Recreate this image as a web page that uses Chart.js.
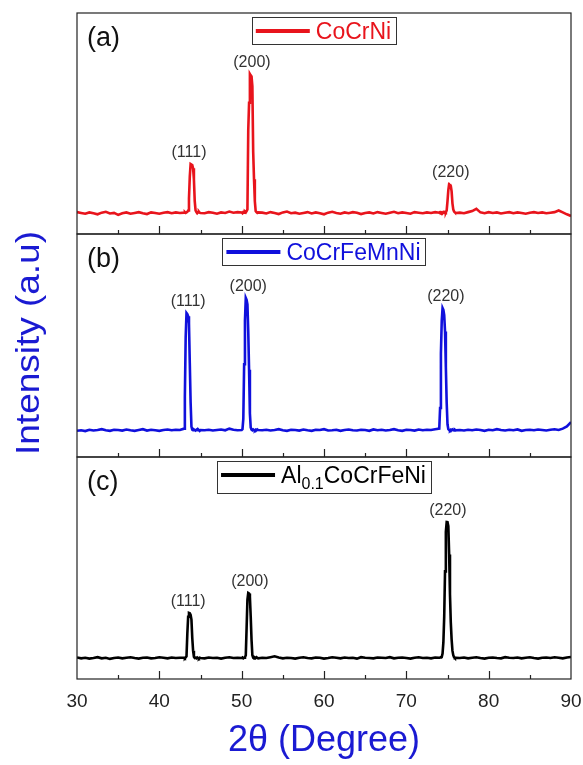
<html>

<head>
    <title>XRD patterns</title>
    <script src="https://cdn.jsdelivr.net/npm/chart.js"></script>
    <style>
        body {
            margin: 0;
            background: #fff;
        }
    </style>
</head>

<body>
    <canvas id="xrdChart" width="583" height="765"></canvas>
</body>
<script>
    // 2theta grid (coarse on the background, fine around the peaks)
    const twoTheta = [
        30, 30.5, 31, 31.5, 32, 32.5, 33, 33.5, 34, 34.5, 35, 35.5, 36, 36.5, 37, 37.5, 38, 38.5, 39, 39.5, 40, 40.5, 41, 41.5, 42, 42.5,
        43, 43.1, 43.2, 43.3, 43.4, 43.5, 43.6, 43.7, 43.8, 43.9, 44, 44.1, 44.2, 44.3, 44.4, 44.5, 44.6, 44.7, 44.8, 44.9, 45,
        45.5, 46, 46.5, 47, 47.5, 48, 48.5, 49, 49.5,
        50, 50.1, 50.2, 50.3, 50.4, 50.5, 50.6, 50.7, 50.8, 50.9, 51, 51.1, 51.2, 51.3, 51.4, 51.5, 51.6, 51.7, 51.8, 51.9, 52,
        52.5, 53, 53.5, 54, 54.5, 55, 55.5, 56, 56.5, 57, 57.5, 58, 58.5, 59, 59.5, 60, 60.5, 61, 61.5, 62,
        62.5, 63, 63.5, 64, 64.5, 65, 65.5, 66, 66.5, 67, 67.5, 68, 68.5, 69, 69.5, 70, 70.5, 71, 71.5, 72, 72.5, 73, 73.5,
        74, 74.1, 74.2, 74.3, 74.4, 74.5, 74.6, 74.7, 74.8, 74.9, 75, 75.1, 75.2, 75.3, 75.4, 75.5, 75.6, 75.7, 75.8, 75.9, 76,
        76.5, 77, 77.5, 78, 78.5, 79, 79.5, 80, 80.5, 81, 81.5, 82, 82.5, 83, 83.5, 84, 84.5, 85, 85.5, 86, 86.5, 87, 87.5, 88, 88.5, 89, 89.5, 90
    ]

    const intensityCoCrNi = [
        400, 385, 370, 395, 380, 360, 390, 405, 375, 385, 350, 380, 395, 370, 385, 400, 380, 365, 395, 385, 370, 390, 400, 380, 395, 385,
        390, 400, 385, 395, 405, 430, 650, 1050, 1280, 1270, 1260, 1200, 1000, 600, 430, 400, 380, 395, 410, 390, 385,
        380, 400, 390, 370, 395, 385, 410, 390, 400,
        395, 380, 400, 390, 410, 395, 420, 450, 1900, 2400, 2925, 2900, 2880, 2700, 1500, 1000, 600, 420, 400, 385, 395,
        390, 375, 400, 385, 365, 395, 410, 380, 390, 370, 385, 400, 375, 395, 380, 360, 390, 405, 385, 370,
        395, 380, 400, 390, 365, 385, 395, 375, 400, 385, 370, 390, 405, 380, 395, 385, 370, 400, 390, 380, 395, 385, 400,
        390, 400, 385, 395, 380, 400, 390, 405, 395, 430, 600, 800, 914, 910, 880, 780, 560, 450, 410, 395, 385,
        390, 380, 400, 420, 460, 395, 380, 400, 385, 395, 375, 390, 400, 380, 395, 385, 370, 390, 400, 385, 395, 380, 390, 400, 430, 395, 360, 330
    ]

    const intensityCoCrFeMnNi = [
        480, 490, 475, 500, 485, 495, 510, 490, 480, 500, 495, 485, 505, 490, 480, 495, 510, 485, 500, 490, 480, 495, 505, 490, 500, 495,
        520, 1100, 2200, 2640, 2620, 2580, 2450, 1720, 1000, 560, 500, 490, 505, 495, 485, 500, 510, 490, 495, 480, 495,
        490, 500, 485, 495, 505, 490, 520, 500, 490,
        495, 510, 700, 1700, 2500, 2916, 2880, 2800, 2300, 1600, 800, 540, 500, 490, 505, 495, 485, 500, 490, 505, 495,
        490, 500, 485, 495, 510, 490, 480, 500, 495, 485, 505, 490, 480, 500, 495, 510, 485, 490, 500, 480,
        495, 505, 490, 485, 500, 495, 480, 505, 490, 500, 485, 495, 510, 490, 480, 500, 495, 485, 505, 490, 500, 495, 510,
        520, 900, 1900, 2500, 2733, 2700, 2600, 2300, 1650, 1000, 600, 510, 495, 485, 500, 490, 505, 495, 485, 500, 490,
        495, 485, 500, 490, 505, 495, 480, 500, 490, 510, 495, 485, 500, 490, 505, 480, 495, 500, 490, 505, 495, 485, 500, 510, 495, 520, 560, 640
    ]

    const intensityAlCoCrFeNi = [
        380, 365, 375, 360, 370, 385, 365, 375, 355, 370, 380, 365, 375, 385, 370, 360, 375, 380, 365, 370, 385, 375, 365, 380, 370, 375,
        375, 365, 380, 400, 800, 1100, 1166, 1160, 1130, 1050, 725, 500, 390, 370, 375, 365, 380, 370, 360, 375, 370,
        365, 380, 370, 375, 360, 375, 385, 370, 375,
        370, 380, 365, 375, 385, 420, 900, 1400, 1519, 1510, 1450, 1100, 690, 420, 375, 365, 380, 370, 385, 375, 365,
        375, 370, 385, 400, 380, 365, 375, 370, 360, 375, 385, 370, 365, 380, 375, 360, 370, 385, 375, 365,
        380, 370, 375, 360, 385, 375, 370, 365, 380, 375, 370, 385, 365, 375, 380, 370, 360, 375, 385, 370, 375, 365, 380,
        375, 380, 385, 390, 450, 650, 1100, 1900, 2600, 2773, 2770, 2700, 2200, 1500, 1000, 700, 500, 420, 385, 370, 375,
        370, 380, 365, 375, 385, 370, 360, 375, 380, 370, 365, 385, 375, 370, 380, 365, 375, 385, 370, 360, 375, 380, 370, 385, 375, 365, 380, 390
    ]

    const panelLetters = ['(a)', '(b)', '(c)']
    const peakLabels = ['(111)', '(200)', '(220)']
    const peakLabelPosA = [43.6, 51.25, 75.4]
    const peakLabelPosB = [43.5, 50.8, 74.8]
    const peakLabelPosC = [43.5, 51.0, 75.05]

    const red = '#e8141c'
    const blue = '#1010dc'
    const titleBlue = '#1a1ad2'
    const font = "'Liberation Sans', Arial, sans-serif"

    const panels = [
        { axis: 'yA', letter: panelLetters[0], labelPos: peakLabelPosA, legend: [['CoCrNi', false]], color: red },
        { axis: 'yB', letter: panelLetters[1], labelPos: peakLabelPosB, legend: [['CoCrFeMnNi', false]], color: blue },
        { axis: 'yC', letter: panelLetters[2], labelPos: peakLabelPosC, legend: [['Al', false], ['0.1', true], ['CoCrFeNi', false]], color: '#000' }
    ]

    const toPoints = (ys) => twoTheta.map((x, i) => ({ x: x, y: ys[i] }))

    const panelAxis = (max, weight) => ({
        type: 'linear',
        position: 'left',
        stack: 'xrd',
        stackWeight: weight,
        min: 0,
        max: max,
        ticks: { display: false, stepSize: 500 },
        grid: { display: false, drawTicks: false },
        border: { display: false },
        afterFit: (s) => { s.width = 0 }
    })

    // frame, inward ticks, letters, legends and peak labels
    const framePlugin = {
        id: 'frame',
        afterDraw(chart) {
            const { ctx, chartArea, scales } = chart
            const xs = scales.x
            ctx.save()
            panels.forEach((p, i) => {
                const s = scales[p.axis]
                const ds = chart.data.datasets[i]
                ctx.strokeStyle = '#222'
                ctx.lineWidth = 1.2
                ctx.strokeRect(chartArea.left, s.top, chartArea.right - chartArea.left, s.bottom - s.top)

                ctx.beginPath()
                for (let v = 35; v < 90; v += 5) {
                    const px = Math.round(xs.getPixelForValue(v)) + 0.5
                    const len = v % 10 === 0 ? 8 : 4
                    ctx.moveTo(px, s.bottom)
                    ctx.lineTo(px, s.bottom - len)
                }
                s.ticks.forEach(t => {
                    if (t.value <= 0 || t.value % 500 !== 0) return
                    const py = Math.round(s.getPixelForValue(t.value)) + 0.5
                    if (py < s.top) return
                    const len = t.value % 1000 === 0 ? 8 : 4
                    ctx.moveTo(chartArea.left, py)
                    ctx.lineTo(chartArea.left + len, py)
                })
                ctx.stroke()

                // panel letter
                ctx.fillStyle = '#111'
                ctx.font = '27px ' + font
                ctx.textAlign = 'left'
                ctx.textBaseline = 'middle'
                ctx.fillText(p.letter, chartArea.left + 10, s.top + 26)

                // legend box
                let textW = 0
                p.legend.forEach(([txt, sub]) => {
                    ctx.font = (sub ? '16px ' : '23px ') + font
                    textW += ctx.measureText(txt).width
                })
                const boxW = 4 + 54 + 6 + textW + 5
                const boxH = p.legend.length > 1 ? 32 : 27
                const boxX = (chartArea.left + chartArea.right) / 2 - boxW / 2
                const boxY = s.top + 4
                ctx.fillStyle = '#fff'
                ctx.fillRect(boxX, boxY, boxW, boxH)
                ctx.strokeStyle = '#333'
                ctx.lineWidth = 1
                ctx.strokeRect(Math.round(boxX) + 0.5, Math.round(boxY) + 0.5, Math.round(boxW), boxH)
                const midY = boxY + 14
                ctx.strokeStyle = p.color
                ctx.lineWidth = 4
                ctx.beginPath()
                ctx.moveTo(boxX + 4, midY)
                ctx.lineTo(boxX + 58, midY)
                ctx.stroke()
                let tx = boxX + 64
                ctx.fillStyle = p.color
                ctx.textBaseline = 'alphabetic'
                p.legend.forEach(([txt, sub]) => {
                    ctx.font = (sub ? '16px ' : '23px ') + font
                    ctx.fillText(txt, tx, midY + (sub ? 14 : 8))
                    tx += ctx.measureText(txt).width
                })

                // peak labels
                ctx.fillStyle = '#333'
                ctx.font = '16px ' + font
                ctx.textAlign = 'center'
                p.labelPos.forEach((lx, k) => {
                    let top = 0
                    ds.data.forEach(pt => {
                        if (Math.abs(pt.x - lx) < 0.7 && pt.y > top) top = pt.y
                    })
                    ctx.fillText(peakLabels[k], xs.getPixelForValue(lx), s.getPixelForValue(top) - 7)
                })
            })

            // y title
            ctx.save()
            ctx.translate(30, 343)
            ctx.rotate(-Math.PI / 2)
            ctx.scale(1.12, 1)
            ctx.fillStyle = titleBlue
            ctx.font = '33px ' + font
            ctx.textAlign = 'center'
            ctx.textBaseline = 'middle'
            ctx.fillText('Intensity (a.u)', 0, 0)
            ctx.restore()
            ctx.restore()
        }
    }

    const ctx = document.getElementById('xrdChart').getContext('2d')
    const xrdChart = new Chart(ctx, {
        type: 'line',
        data: {
            datasets: [{
                label: 'CoCrNi',
                data: toPoints(intensityCoCrNi),
                yAxisID: 'yA',
                borderColor: red,
                borderWidth: 2.6,
                pointRadius: 0,
                tension: 0
            }, {
                label: 'CoCrFeMnNi',
                data: toPoints(intensityCoCrFeMnNi),
                yAxisID: 'yB',
                borderColor: blue,
                borderWidth: 2.6,
                pointRadius: 0,
                tension: 0
            }, {
                label: 'Al0.1CoCrFeNi',
                data: toPoints(intensityAlCoCrFeNi),
                yAxisID: 'yC',
                borderColor: '#000',
                borderWidth: 2.6,
                pointRadius: 0,
                tension: 0
            }]
        },
        options: {
            responsive: false,
            animation: false,
            layout: { padding: { left: 77, right: 12, top: 13, bottom: 0 } },
            plugins: {
                legend: { display: false },
                tooltip: { enabled: false }
            },
            scales: {
                x: {
                    type: 'linear',
                    min: 30,
                    max: 90,
                    ticks: { stepSize: 10, color: '#222', padding: 11, font: { size: 19, family: font } },
                    grid: { display: false, drawTicks: false },
                    border: { display: false },
                    title: {
                        display: true,
                        text: '2θ (Degree)',
                        color: titleBlue,
                        font: { size: 36, family: font },
                        padding: { top: 0, bottom: 2 }
                    },
                    afterFit: (s) => {
                        s.height = 86
                        s.paddingLeft = 0
                        s.paddingRight = 0
                    }
                },
                // left stacks are laid out from the last one defined, so list the bottom panel first
                yC: panelAxis(3920, 222),
                yB: panelAxis(4090, 223),
                yA: panelAxis(4040, 221)
            }
        },
        plugins: [framePlugin]
    })
</script>
</html>
